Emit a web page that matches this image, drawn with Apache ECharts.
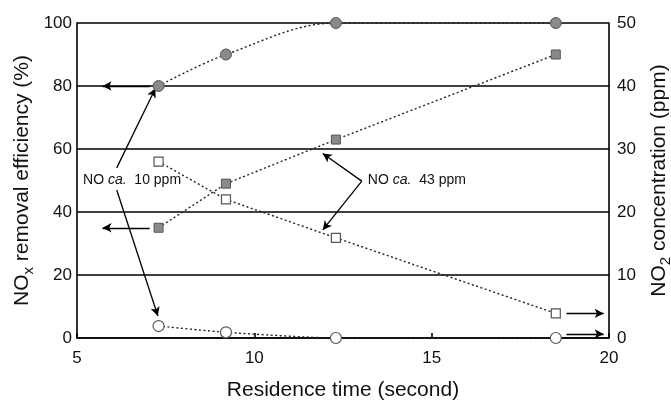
<!DOCTYPE html>
<html>
<head>
<meta charset="utf-8">
<script src="https://cdn.jsdelivr.net/npm/echarts@6/dist/echarts.min.js"></script>
<style>
html,body{margin:0;padding:0;background:#fff;}
#chart{width:671px;height:400px;}
</style>
</head>
<body>
<div id="chart"></div>
<script>
// ---- data ----
var residenceTime = [7.3, 9.2, 12.3, 18.5];
var noxRemoval10ppm = [80, 90, 100, 100];     // %, NO ca. 10 ppm (filled circles)
var noxRemoval43ppm = [35, 49, 63, 90];       // %, NO ca. 43 ppm (filled squares)
var no2Conc43ppm = [28, 22, 15.9, 3.9];       // ppm, NO ca. 43 ppm (open squares)
var no2Conc10ppm = [1.9, 0.9, 0, 0];          // ppm, NO ca. 10 ppm (open circles)
var xTicks = [5, 10, 15, 20];
var leftTicks = [0, 20, 40, 60, 80, 100];
var rightTicks = [0, 10, 20, 30, 40, 50];

function pairs(xs, ys){ return xs.map(function(x,i){ return [x, ys[i]]; }); }

var FONT = "'Liberation Sans', Arial, sans-serif";

// annotation arrows in data coordinates (x: seconds, y: left axis %)
var arrows = [
  [[7.05, 80], [5.72, 80]],
  [[7.05, 35], [5.72, 35]],
  [[18.80, 7.8], [19.85, 7.8]],
  [[18.80, 1.3], [19.85, 1.3]],
  [[6.12, 54], [7.21, 79.2]],
  [[6.12, 47], [7.28, 7.0]],
  [[13.03, 49.8], [11.93, 58.6]],
  [[13.03, 49.8], [11.93, 34.3]]
];

var chart = echarts.init(document.getElementById('chart'), null, {renderer:'canvas'});

var lineDotted = {color:'#222', width:1.4, type:[2,2.5]};
var titleRich = {
  a:{fontSize:21, lineHeight:27, color:'#111', fontFamily:FONT},
  s:{fontSize:15, lineHeight:15, verticalAlign:'bottom', color:'#111', fontFamily:FONT}
};

var option = {
  animation:false,
  backgroundColor:'#fff',
  grid:{left:77, right:62, top:23, bottom:62, containLabel:false, outerBoundsMode:'none'},
  xAxis:{
    type:'value', min:xTicks[0], max:xTicks[xTicks.length-1], interval:5,
    name:'Residence time (second)', nameLocation:'middle', nameGap:42,
    nameTextStyle:{fontSize:21, color:'#111', fontFamily:FONT},
    axisLine:{show:true, lineStyle:{color:'#000', width:1.6}},
    axisTick:{show:true, inside:true, length:5, lineStyle:{color:'#000', width:1.6}},
    axisLabel:{fontSize:17, color:'#111', fontFamily:FONT, margin:12},
    splitLine:{show:false}
  },
  yAxis:[{
    type:'value', min:leftTicks[0], max:leftTicks[leftTicks.length-1], interval:20,
    position:'left',
    name:'{a|NO}{s|x}{a| removal efficiency (%)}', nameLocation:'middle', nameGap:41,
    nameMoveOverlap:false,
    nameTextStyle:{fontSize:21, color:'#111', fontFamily:FONT, rich:titleRich},
    axisLine:{show:true, lineStyle:{color:'#000', width:1.6}},
    axisTick:{show:false},
    axisLabel:{fontSize:17, color:'#111', fontFamily:FONT, margin:5},
    splitLine:{show:true, lineStyle:{color:'#000', width:1.6}}
  },{
    type:'value', min:rightTicks[0], max:rightTicks[rightTicks.length-1], interval:10,
    position:'right',
    name:'{a|NO}{s|2}{a| concentration (ppm)}', nameLocation:'middle', nameGap:37,
    nameMoveOverlap:false,
    nameTextStyle:{fontSize:21, color:'#111', fontFamily:FONT, rich:titleRich},
    axisLine:{show:true, lineStyle:{color:'#000', width:1.6}},
    axisTick:{show:false},
    axisLabel:{fontSize:17, color:'#111', fontFamily:FONT, margin:8},
    splitLine:{show:false}
  }],
  series:[{
    name:'NOx 10ppm', type:'line', yAxisIndex:0, smooth:0.35,
    data:pairs(residenceTime, noxRemoval10ppm),
    symbol:'circle', symbolSize:11,
    itemStyle:{color:'#8a8a8a', borderColor:'#555', borderWidth:1},
    lineStyle:lineDotted, z:5,
    markLine:{
      silent:true, animation:false, symbol:['none','arrow'], symbolSize:[7,9],
      label:{show:false}, emphasis:{disabled:true},
      lineStyle:{color:'#000', type:'solid', width:1.3},
      data:arrows.map(function(a){ return [{coord:a[0]},{coord:a[1]}]; })
    },
    markPoint:{
      silent:true, animation:false, symbol:'circle', symbolSize:0,
      label:{show:true, position:'right', distance:0, color:'#111', fontSize:14, fontFamily:FONT,
        rich:{i:{fontStyle:'italic', fontSize:14, color:'#111', fontFamily:FONT}}},
      data:[
        {coord:[5.17, 50.0], label:{formatter:'NO {i|ca.}  10 ppm'}},
        {coord:[13.2, 50.0], label:{formatter:'NO {i|ca.}  43 ppm'}}
      ]
    }
  },{
    name:'NOx 43ppm', type:'line', yAxisIndex:0,
    data:pairs(residenceTime, noxRemoval43ppm),
    symbol:'rect', symbolSize:9,
    itemStyle:{color:'#8a8a8a', borderColor:'#555', borderWidth:1},
    lineStyle:lineDotted, z:5
  },{
    name:'NO2 43ppm', type:'line', yAxisIndex:1,
    data:pairs(residenceTime, no2Conc43ppm),
    symbol:'rect', symbolSize:9,
    itemStyle:{color:'#fff', borderColor:'#555', borderWidth:1.2},
    lineStyle:lineDotted, z:5
  },{
    name:'NO2 10ppm', type:'line', yAxisIndex:1, smooth:0.2,
    data:pairs(residenceTime, no2Conc10ppm),
    symbol:'circle', symbolSize:11,
    itemStyle:{color:'#fff', borderColor:'#555', borderWidth:1.2},
    lineStyle:lineDotted, z:5
  }]
};
chart.setOption(option);
</script>
</body>
</html>
